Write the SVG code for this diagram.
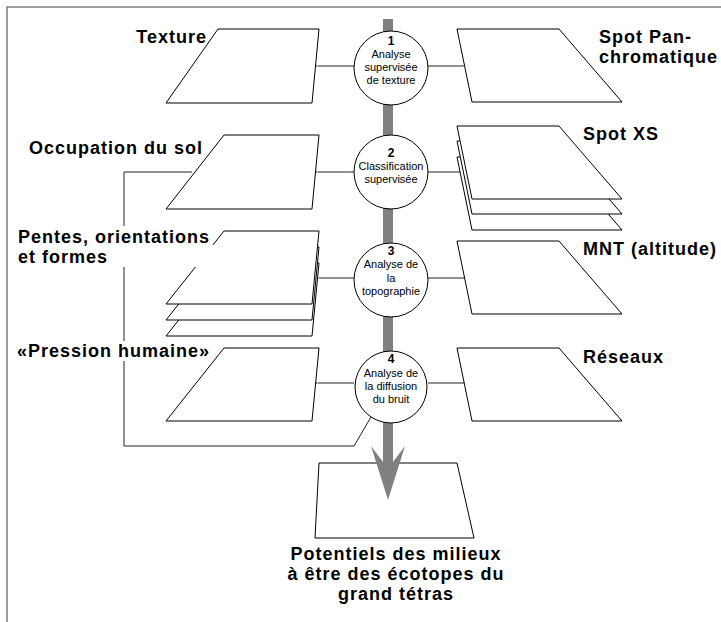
<svg xmlns="http://www.w3.org/2000/svg" width="721" height="622" viewBox="0 0 721 622">
<defs>
<marker id="ah" markerWidth="20" markerHeight="14" viewBox="0 -7 20 14" refX="0" refY="0" orient="auto-start-reverse" markerUnits="userSpaceOnUse">
<path d="M0,0 L17,-6 L11,0 L17,6 Z" fill="#000"/>
</marker>
<style>
.sheet{fill:#fff;stroke:#000;stroke-width:1}
.lbl{font-family:"Liberation Sans",Arial,sans-serif;font-weight:bold;font-size:18px;letter-spacing:1px;fill:#000}
.ct{font-family:"Liberation Sans",Arial,sans-serif;font-size:11px;fill:#000;text-anchor:middle}
.cn{font-family:"Liberation Sans",Arial,sans-serif;font-size:12px;font-weight:bold;fill:#000;text-anchor:middle}
.circ{fill:#fff;stroke:#000;stroke-width:1}
.conn{fill:none;stroke:#222;stroke-width:1}
</style>
</defs>
<rect width="721" height="622" fill="#fff"/>
<!-- frame -->
<path d="M7,622 L7,7 L721,7" fill="none" stroke="#7f7f7f" stroke-width="1.5"/>

<!-- connectors -->
<g id="connectors">
<polyline class="conn" points="192,172 124,172 124,446 354,446 371,417"/>
<line class="conn" x1="354" y1="66" x2="318" y2="66" marker-end="url(#ah)"/>
<line class="conn" x1="354" y1="172" x2="318" y2="172" marker-end="url(#ah)"/>
<line class="conn" x1="354" y1="278" x2="319" y2="278" marker-end="url(#ah)"/>
<line class="conn" x1="354" y1="383" x2="318" y2="383" marker-end="url(#ah)"/>
<line class="conn" x1="428" y1="66" x2="464" y2="66"/>
<line class="conn" x1="428" y1="172" x2="461" y2="172"/>
<line class="conn" x1="428" y1="278" x2="465" y2="278"/>
<line class="conn" x1="428" y1="383" x2="465" y2="383"/>
</g>

<!-- left layers -->
<g id="texture">
<polygon class="sheet" points="218,29 319,29 312,103 166,103"/>
<text class="lbl" x="207" y="43" text-anchor="end">Texture</text>
</g>
<g id="occupation">
<polygon class="sheet" points="224,135 319,135 312,209 166,209"/>
<text class="lbl" x="203" y="154" text-anchor="end">Occupation du sol</text>
</g>
<g id="pentes">
<polygon class="sheet" points="224,263 319,263 312,336 166,336"/>
<polygon class="sheet" points="224,247 319,247 312,320 166,320"/>
<polygon class="sheet" points="224,231 319,231 312,304 166,304"/>
<rect x="15" y="226" width="198" height="41" fill="#fff"/>
<text class="lbl" x="18" y="243">Pentes, orientations</text>
<text class="lbl" x="18" y="263">et formes</text>
</g>
<g id="pression">
<polygon class="sheet" points="224,348 319,348 312,421 166,421"/>
<rect x="15" y="341" width="198" height="20" fill="#fff"/>
<text class="lbl" x="17" y="357">«Pression humaine»</text>
</g>

<!-- right layers -->
<g id="spotpan">
<polygon class="sheet" points="457,29 559,29 622,102 472,102"/>
<text class="lbl" x="599" y="43">Spot Pan-</text>
<text class="lbl" x="599" y="63">chromatique</text>
</g>
<g id="spotxs">
<polygon class="sheet" points="457,157 559,157 622,230 472,230"/>
<polygon class="sheet" points="457,141 559,141 622,214 472,214"/>
<polygon class="sheet" points="457,126 559,126 622,199 472,199"/>
<text class="lbl" x="583" y="140">Spot XS</text>
</g>
<g id="mnt">
<polygon class="sheet" points="457,241 559,241 622,314 472,314"/>
<text class="lbl" x="583" y="255">MNT (altitude)</text>
</g>
<g id="reseaux">
<polygon class="sheet" points="457,348 559,348 622,421 472,421"/>
<text class="lbl" x="583" y="363">Réseaux</text>
</g>

<!-- result -->
<g id="potentiels">
<polygon class="sheet" points="319,463 457,463 474,538 315,538"/>
<text class="lbl" x="396" y="560" text-anchor="middle">Potentiels des milieux</text>
<text class="lbl" x="396" y="580" text-anchor="middle">à être des écotopes du</text>
<text class="lbl" x="396" y="600" text-anchor="middle">grand tétras</text>
</g>

<!-- main gray flow arrow -->
<g id="flow">
<path d="M383,19 L393,19 L393,462 L405,446 L388,500 L371,446 L383,462 Z" fill="#808080"/>
</g>

<!-- process circles -->
<g id="p1">
<circle class="circ" cx="391" cy="68" r="37"/>
<text class="cn" x="391" y="45">1</text>
<text class="ct" x="391" y="58">Analyse</text>
<text class="ct" x="391" y="71">supervisée</text>
<text class="ct" x="391" y="84">de texture</text>
</g>
<g id="p2">
<circle class="circ" cx="391" cy="172" r="37"/>
<text class="cn" x="391" y="157">2</text>
<text class="ct" x="391" y="170">Classification</text>
<text class="ct" x="391" y="183">supervisée</text>
</g>
<g id="p3">
<circle class="circ" cx="391" cy="280" r="37"/>
<text class="cn" x="391" y="255">3</text>
<text class="ct" x="391" y="268">Analyse de</text>
<text class="ct" x="391" y="282">la</text>
<text class="ct" x="391" y="295">topographie</text>
</g>
<g id="p4">
<circle class="circ" cx="391" cy="387" r="36"/>
<text class="cn" x="391" y="363">4</text>
<text class="ct" x="391" y="377">Analyse de</text>
<text class="ct" x="391" y="390">la diffusion</text>
<text class="ct" x="391" y="403">du bruit</text>
</g>
</svg>
